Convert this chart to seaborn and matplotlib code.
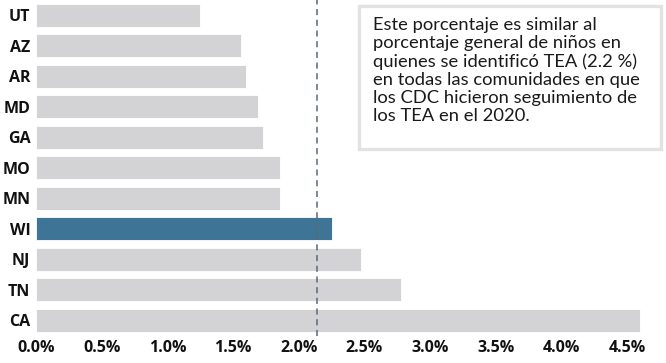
#!/usr/bin/env python3

import pandas as pd
import matplotlib.pyplot as plt
import matplotlib.patches as mpatches
import seaborn as sns

# data
states = ["UT", "AZ", "AR", "MD", "GA", "MO", "MN", "WI", "NJ", "TN", "CA"]
prevalence = [1.25, 1.56, 1.60, 1.69, 1.73, 1.86, 1.86, 2.25, 2.47, 2.78, 4.60]
overall = 2.14
xticks = [0.0, 0.5, 1.0, 1.5, 2.0, 2.5, 3.0, 3.5, 4.0, 4.5]
highlight = "WI"
note = ("Este porcentaje es similar al\n"
        "porcentaje general de niños en\n"
        "quienes se identificó TEA (2.2 %)\n"
        "en todas las comunidades en que\n"
        "los CDC hicieron seguimiento de\n"
        "los TEA en el 2020.")

GRAY = "#d3d3d5"
BLUE = "#3e7597"

sns.set_theme(style="white")
plt.rcParams["font.family"] = ["Open Sans", "DejaVu Sans"]

df = pd.DataFrame({"state": states, "value": prevalence})
palette = {s: (BLUE if s == highlight else GRAY) for s in states}

fig = plt.figure(figsize=(6.66, 3.63), dpi=100)
ax = fig.add_axes([36 / 666, 1 - 335.5 / 363, (647 - 36) / 666, 335.5 / 363])

sns.barplot(data=df, x="value", y="state", hue="state", palette=palette,
            orient="h", width=0.76, legend=False, saturation=1,
            edgecolor="white", linewidth=0.6, ax=ax)

ax.axvline(overall, color="#5a6878", linestyle=(0, (4, 3)), linewidth=1.1, zorder=3)

ax.set_xlim(0, 4.65)
ax.set_ylim(10.5, -0.5)
ax.set_xticks(xticks)
ax.set_xticklabels([f"{t:.1f}%" for t in xticks], fontweight="bold", fontsize=11.5, color="#111111")
ax.set_yticks(range(len(states)))
ax.set_yticklabels(states, fontweight="bold", fontsize=11.5, color="#111111")
ax.tick_params(axis="both", length=0, pad=4)
ax.tick_params(axis="x", pad=3)
ax.set_xlabel("")
ax.set_ylabel("")
for sp in ax.spines.values():
    sp.set_visible(False)

# note box
box = mpatches.Rectangle((359 / 666, 1 - 149 / 363), 302 / 666, 143 / 363,
                         transform=fig.transFigure, facecolor="white",
                         edgecolor="#e2e2e4", linewidth=2.4, zorder=5)
fig.patches.append(box)
fig.text(373 / 666, 1 - 17 / 363, note, ha="left", va="top", fontsize=13.2,
         linespacing=1.16, color="#1a1a1a", family=["Lato", "DejaVu Sans"], zorder=6)

fig.savefig("out.png", dpi=100)
